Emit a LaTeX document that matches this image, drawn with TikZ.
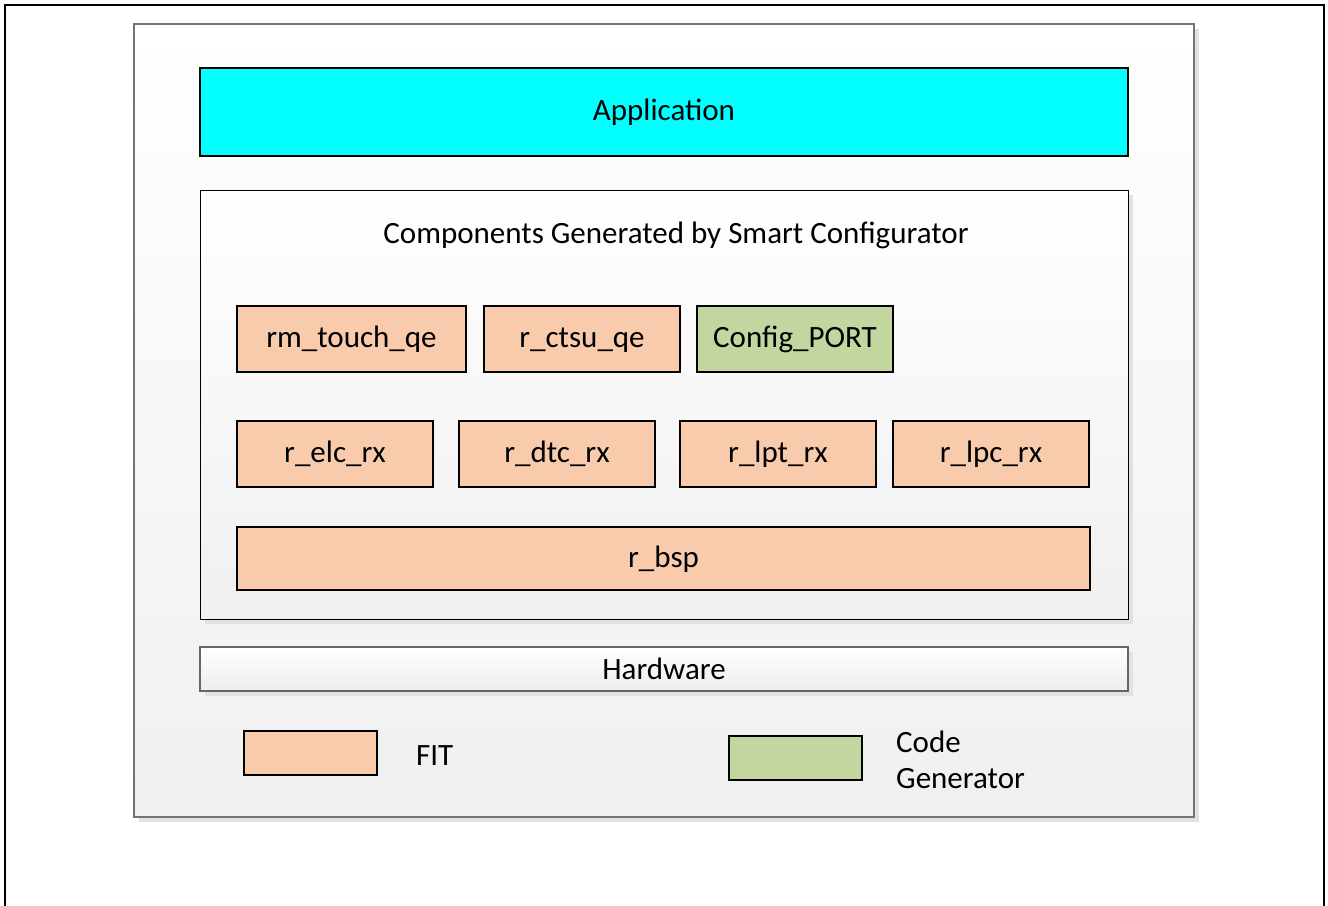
\documentclass[tikz,border=0pt]{standalone}
\usepackage{fontspec}
\setmainfont{Carlito}
\usetikzlibrary{shadows}
\definecolor{peach}{HTML}{F8CBAD}
\definecolor{cgreen}{HTML}{C4D69F}
\definecolor{appcyan}{HTML}{00FFFF}
\definecolor{shadowgray}{HTML}{E2E2E2}
\begin{document}
\begin{tikzpicture}[x=1pt,y=-1pt,
  basetxt/.style={font=\fontsize{31}{36}\selectfont, text=black},
  txt/.style={basetxt, text height=23pt, text depth=5.5pt},
  shad/.style={drop shadow={shadow xshift=5pt, shadow yshift=-5pt, fill=shadowgray, opacity=1}},
  outerbox/.style={draw=black!55, line width=1.5pt, top color=white, bottom color=black!6, shad},
  compbox/.style={draw=black, line width=1pt, top color=white, bottom color=black!6, shad},
  hwbox/.style={draw=black!60, line width=1.5pt, top color=white, bottom color=black!7, shad, basetxt},
  appbox/.style={draw=black, line width=2pt, fill=appcyan, txt},
  fitbox/.style={draw=black, line width=2pt, fill=peach, txt},
  cgbox/.style={draw=black, line width=2pt, fill=cgreen, txt},
  legtxt/.style={basetxt, anchor=west, align=left, inner sep=0pt}
]
\useasboundingbox (0,0) rectangle (1328,905);
\fill[white] (0,0) rectangle (1328,905);
% outer frame
\coordinate (fbl) at (5,906);
\coordinate (ftl) at (5,5);
\coordinate (ftr) at (1324,5);
\coordinate (fbr) at (1324,906);
\draw[line width=2pt] (fbl) -- (ftl) -- (ftr) -- (fbr);

\node[outerbox, minimum width=1060pt, minimum height=793pt, inner sep=0pt] (outer) at (664,420.5) {};
\node[appbox, minimum width=928pt, minimum height=88pt] (app) at (664,112) {Application};
\node[compbox, minimum width=928pt, minimum height=429pt, inner sep=0pt] (comp) at (664,404.5) {};
\node[txt] (comptitle) at (676,235) {Components Generated by Smart Configurator};

\node[fitbox, minimum width=229pt, minimum height=66pt] (rmtouch) at (351.5,339) {rm\_touch\_qe};
\node[fitbox, minimum width=196pt, minimum height=66pt] (rctsu) at (582,339) {r\_ctsu\_qe};
\node[cgbox, minimum width=196pt, minimum height=66pt] (cfgport) at (795,339) {Config\_PORT};

\node[fitbox, minimum width=196pt, minimum height=66pt] (relc) at (335,454) {r\_elc\_rx};
\node[fitbox, minimum width=196pt, minimum height=66pt] (rdtc) at (557,454) {r\_dtc\_rx};
\node[fitbox, minimum width=196pt, minimum height=66pt] (rlpt) at (778,454) {r\_lpt\_rx};
\node[fitbox, minimum width=196pt, minimum height=66pt] (rlpc) at (991,454) {r\_lpc\_rx};

\node[fitbox, minimum width=853pt, minimum height=63pt] (rbsp) at (663.5,558.5) {r\_bsp};

\node[hwbox, minimum width=928pt, minimum height=44pt, inner sep=0pt] (hw) at (664,669) {Hardware};

\node[fitbox, minimum width=133pt, minimum height=44pt] (legfit) at (310.5,753) {};
\node[legtxt] (legfittxt) at (416,756) {FIT};
\node[cgbox, minimum width=133pt, minimum height=44pt] (legcg) at (795.5,758) {};
\node[legtxt] (legcgtxt) at (896,760) {Code\\Generator};
\end{tikzpicture}
\end{document}
